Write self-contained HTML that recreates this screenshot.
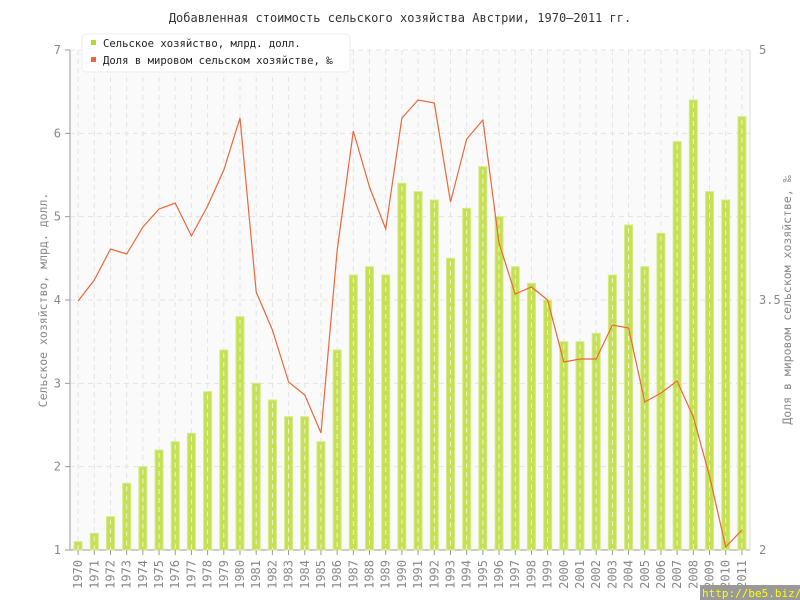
<!DOCTYPE html>
<html><head><meta charset="utf-8"><style>
body{margin:0;background:#fff;width:800px;height:600px;overflow:hidden}
svg{display:block;font-family:"DejaVu Sans Mono","Liberation Mono",monospace}
</style></head><body>
<svg width="800" height="600" xmlns="http://www.w3.org/2000/svg">
<text x="400" y="22" text-anchor="middle" font-size="12" fill="#333">Добавленная стоимость сельского хозяйства Австрии, 1970–2011 гг.</text>
<rect x="70" y="50" width="680" height="500" fill="#fafafa"/>
<g id="g"></g>
<line x1="70" y1="50" x2="70" y2="550" stroke="#999"/>
<line x1="70" y1="550" x2="750" y2="550" stroke="#999"/>
<line x1="750" y1="50" x2="750" y2="550" stroke="#ddd"/>
<g id="yl" font-size="12" fill="#888"></g>
<text transform="translate(47,300) rotate(-90)" text-anchor="middle" font-size="11.5" fill="#888">Сельское хозяйство, млрд. долл.</text>
<text transform="translate(791,300) rotate(-90)" text-anchor="middle" font-size="11.5" fill="#888">Доля в мировом сельском хозяйстве, ‰</text>
<g id="bars"></g>
<polyline id="ln" fill="none" stroke="#e8693a" stroke-width="1.2"/>
<g id="xl" font-size="12" fill="#888"></g>
<rect x="82" y="34" width="268" height="38" rx="4" fill="#fff" stroke="#eee"/>
<rect x="91" y="40" width="5" height="5" fill="#b5d930"/>
<text x="103" y="47" font-size="10.6" fill="#222">Сельское хозяйство, млрд. долл.</text>
<rect x="91" y="57" width="5" height="5" fill="#e8693a"/>
<text x="103" y="64" font-size="10.6" fill="#222">Доля в мировом сельском хозяйстве, ‰</text>
<rect x="700" y="585" width="100" height="15" fill="#999"/>
<text x="702" y="597" font-size="11" fill="#ff0">http://be5.biz/</text>
</svg>
<script>
const ns="http://www.w3.org/2000/svg";
function el(p,t,a,txt){const e=document.createElementNS(ns,t);for(const k in a)e.setAttribute(k,a[k]);if(txt!==undefined)e.textContent=txt;document.getElementById(p).appendChild(e);return e;}
const bv=[1.1,1.2,1.4,1.8,2.0,2.2,2.3,2.4,2.9,3.4,3.8,3.0,2.8,2.6,2.6,2.3,3.4,4.3,4.4,4.3,5.4,5.3,5.2,4.5,5.1,5.6,5.0,4.4,4.2,4.0,3.5,3.5,3.6,4.3,4.9,4.4,4.8,5.9,6.4,5.3,5.2,6.2];
const ly=[301,280,249,254,227,209,203,236,206,170,118,292,330,382,395,433,251,131,187,229,118,100,103,202,139,120,243,294,287,300,362,359,359,325,328,402,393,381,417,476,547,530];
const bw=680/42;
for(let v=2;v<=7;v++){const y=550-(v-1)*500/6;el("g","line",{x1:70,x2:750,y1:y,y2:y,stroke:"#e4e4e4","stroke-dasharray":"5,4"});}
for(let v=1;v<=7;v++){const y=550-(v-1)*500/6;el("yl","text",{x:61,y:y+4,"text-anchor":"end"},v);el("yl","line",{x1:65,x2:70,y1:y,y2:y,stroke:"#999"});}
el("yl","text",{x:759,y:54},"5");el("yl","text",{x:759,y:304},"3.5");el("yl","text",{x:759,y:554},"2");
let pts=[];
for(let i=0;i<42;i++){const cx=70+bw*(i+0.5);
el("g","line",{x1:cx,x2:cx,y1:50,y2:550,stroke:"#e4e4e4","stroke-dasharray":"5,4"});
const y=550-(bv[i]-1)*500/6;
el("bars","rect",{x:cx-4,y:y,width:8,height:550-y,fill:"#c5e052",stroke:"#d6ea8a","stroke-width":1});
el("bars","line",{x1:cx,x2:cx,y1:y+3,y2:550,stroke:"#fff","stroke-opacity":0.7,"stroke-dasharray":"5,4"});
el("xl","line",{x1:cx,x2:cx,y1:550,y2:555,stroke:"#999"});
el("xl","text",{transform:`translate(${cx+4},560) rotate(-90)`,"text-anchor":"end"},1970+i);
pts.push(cx.toFixed(1)+","+ly[i]);}
document.getElementById("ln").setAttribute("points",pts.join(" "));
</script>
</body></html>
